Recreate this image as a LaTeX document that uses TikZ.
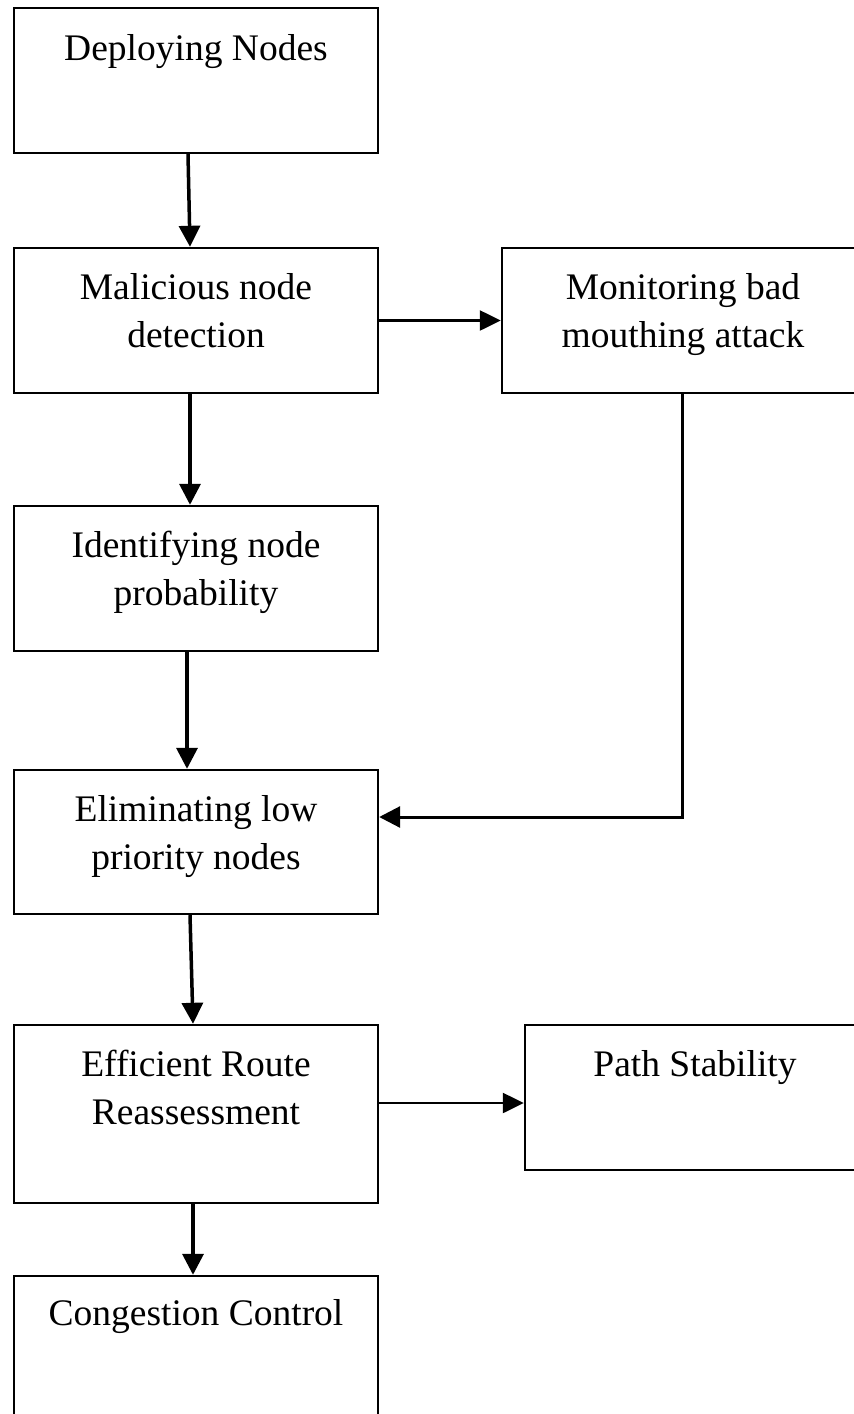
\documentclass[tikz,border=0pt]{standalone}
\usepackage{fontspec}
\setmainfont{Liberation Serif}
\usetikzlibrary{arrows.meta}
\begin{document}
\begin{tikzpicture}[x=1pt,y=-1pt,
  box/.style={draw=black,line width=2.4pt,rectangle,minimum width=364pt,inner sep=0pt},
  txt/.style={font=\fontsize{37.5}{48}\selectfont,align=center,inner sep=0pt,anchor=base},
  varrow/.style={line width=3.5pt,-{Triangle[length=21pt,width=21pt]}},
  harrow/.style={line width=2.4pt,-{Triangle[length=21pt,width=20pt]}}]
\useasboundingbox (0,0) rectangle (854,1414);
\clip (0,0) rectangle (854,1414);
\fill[white] (0,0) rectangle (854,1414);
% left column
\node[box,minimum height=145pt] (b1) at (196,80.5) {};
\node[box,minimum height=145pt] (b2) at (196,320.5) {};
\node[box,minimum height=145pt] (b3) at (196,578.5) {};
\node[box,minimum height=144pt] (b4) at (196,842) {};
\node[box,minimum height=178pt] (b5) at (196,1114) {};
\node[box,minimum height=145pt] (b6) at (196,1348.5) {};
% right column
\node[box,minimum height=145pt] (ra) at (684,320.5) {};
\node[box,minimum height=145pt,minimum width=340pt] (rb) at (695,1097.5) {};
% texts (base anchor = baseline of last line)
\node[txt] (t1) at (196,60) {Deploying Nodes};
\node[txt] (t2) at (196,347) {Malicious node\\detection};
\node[txt] (t3) at (196,605) {Identifying node\\probability};
\node[txt] (t4) at (196,869) {Eliminating low\\priority nodes};
\node[txt] (t5) at (196,1124) {Efficient Route\\Reassessment};
\node[txt] (t6) at (196,1325) {Congestion Control};
\node[txt] (ta) at (683,347) {Monitoring bad\\mouthing attack};
\node[txt] (tb) at (695,1076) {Path Stability};
% connectors
\draw[varrow] ([xshift=-8pt]b1.south) -- ([xshift=-6pt]b2.north);
\draw[varrow] ([xshift=-6pt]b2.south) -- ([xshift=-6pt]b3.north);
\draw[varrow] ([xshift=-9pt]b3.south) -- ([xshift=-9pt]b4.north);
\draw[varrow] ([xshift=-6pt]b4.south) -- ([xshift=-3pt]b5.north);
\draw[varrow] ([xshift=-3pt]b5.south) -- ([xshift=-3pt]b6.north);
\draw[harrow] (b2.east) -- (ra.west);
\draw[harrow] ([yshift=11pt]b5.east) -- ([yshift=11pt]b5.east -| rb.west);
\draw[varrow,line width=3pt] ([xshift=-2pt]ra.south) |- ([yshift=25pt]b4.east);
\end{tikzpicture}
\end{document}
